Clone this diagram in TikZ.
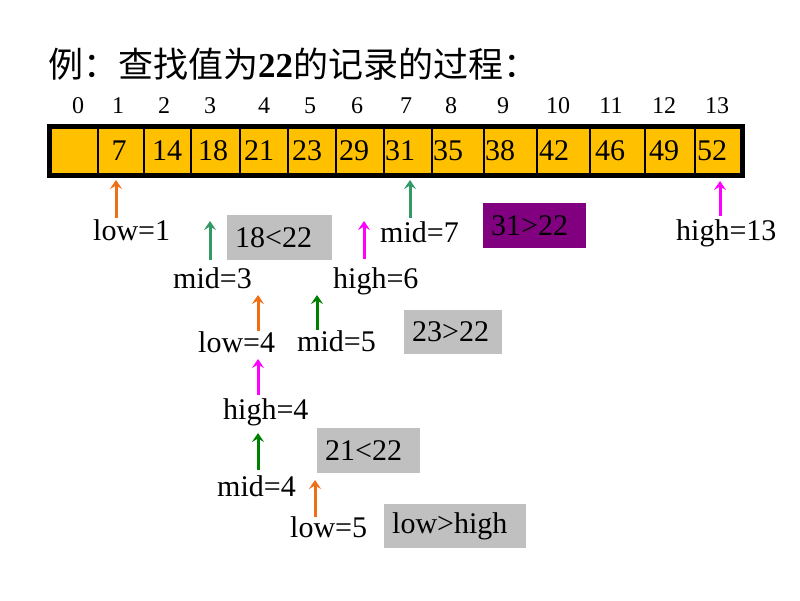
\documentclass[tikz,border=0pt]{standalone}
\usepackage{fontspec}
\setmainfont{Liberation Serif}
\newfontfamily\cjk{Noto Sans CJK SC}
\usetikzlibrary{arrows.meta, positioning, calc}
\definecolor{cellfill}{RGB}{255,192,0}
\definecolor{boxgray}{RGB}{192,192,192}
\definecolor{boxpurple}{RGB}{128,0,128}
\definecolor{lowcol}{RGB}{240,110,20}
\definecolor{midcol}{RGB}{51,153,102}
\definecolor{highcol}{RGB}{255,0,255}
\definecolor{midgreen}{RGB}{0,128,0}

\tikzset{
  idx/.style={font=\fontsize{24}{24}\selectfont, anchor=base, inner sep=0pt},
  val/.style={font=\fontsize{30}{30}\selectfont, anchor=base, inner sep=0pt},
  lbl/.style={font=\fontsize{30}{30}\selectfont, anchor=base west, inner sep=0pt},
  cmpbox/.style={fill=#1, anchor=north west, font=\fontsize{30}{30}\selectfont,
    inner xsep=8pt, inner ysep=0pt, align=left},
  ptr/.style={draw=#1, line width=3pt, -{Stealth[length=9pt,width=12pt,inset=3.5pt]}},
}

\begin{document}
\begin{tikzpicture}[x=1pt,y=-1pt]
    \useasboundingbox[fill=white] (0,0) rectangle (800,600);
    % title
    \node[anchor=base west, inner sep=0pt, font=\fontsize{35}{35}\selectfont] (title) at (48,77)
        {\cjk 例：查找值为{\rmfamily\bfseries 22}的记录的过程：};
    % the array
    \fill[cellfill] (48,124) rectangle (744,178);
    \foreach \x in {98,144,191,240,288,336,384,432,484,537,590,645,695}
        \draw[line width=2.5pt] (\x,126) -- (\x,176);
    \draw[line width=4.5pt] (49.5,126.5) rectangle (742.5,175.5);
    \foreach \i/\x in {0/78,1/118,2/164,3/210,4/264,5/310,6/357,7/406,8/451,9/503,10/558,11/611,12/664,13/717}
        \node[idx] (i\i) at (\x,113) {\i};
    \foreach \i/\x/\v in {1/119/7,2/167/14,3/213/18,4/259/21,5/307/23,6/354/29,7/400/31,8/448/35,9/500/38,10/554/42,11/610/46,12/664/49,13/712/52}
        \node[val] (c\i) at (\x,160) {\v};
    % pointers
    \foreach \n/\c/\x/\ya/\yb in {low1/lowcol/116/218/180, mid7/midcol/410/218/180, high13/highcol/720/216/181,
            mid3/midcol/210/260/221, high6/highcol/364/259/221, low4/lowcol/258/331/295,
            mid5/midgreen/317/330/295, high4/highcol/258/395/359, mid4/midgreen/258/470/433,
            low5/lowcol/315/517/480} {
        \coordinate (\n a) at (\x,\ya);
        \coordinate (\n b) at (\x,\yb);
        \draw[ptr=\c] (\n a) -- (\n b);
    }
    \node[lbl] (low1) at (93,240) {low=1};
    \node[lbl] (mid7) at (380,242) {mid=7};
    \node[lbl] (high13) at (676,240) {high=13};
    \node[lbl] (mid3) at (173,288) {mid=3};
    \node[lbl] (high6) at (333,288) {high=6};
    \node[lbl] (low4) at (198,352) {low=4};
    \node[lbl] (mid5) at (297,351) {mid=5};
    \node[lbl] (high4) at (223,419) {high=4};
    \node[lbl] (mid4) at (217,496) {mid=4};
    \node[lbl] (low5) at (290,537) {low=5};
    % comparisons
    \node[cmpbox=boxgray, text width=89pt, minimum height=45pt] (cmp1) at (227,215) {18<22};
    \node[cmpbox=boxpurple, text width=87pt, minimum height=45pt] (cmp2) at (483,203) {31>22};
    \node[cmpbox=boxgray, text width=82pt, minimum height=44pt] (cmp3) at (404,310) {23>22};
    \node[cmpbox=boxgray, text width=87pt, minimum height=45pt] (cmp4) at (317,428) {21<22};
    \node[cmpbox=boxgray, text width=126pt, minimum height=44pt] (cmp5) at (384,504) {low>high};
\end{tikzpicture}
\end{document}
